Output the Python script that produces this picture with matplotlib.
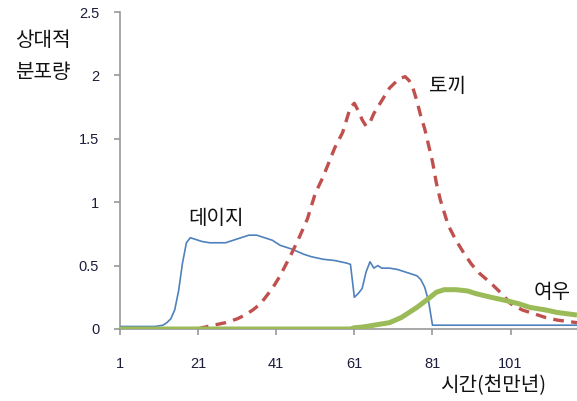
import matplotlib
matplotlib.use("Agg")
import matplotlib.pyplot as plt

plt.rcParams['font.family'] = ['Noto Sans CJK KR', 'DejaVu Sans']

# 데이지
daisy_x = [1, 10, 12, 13, 14, 15, 16, 17, 18, 19, 20, 22, 24, 28, 30, 32, 34, 36, 38, 40,
           42, 45, 48, 50, 53, 56, 59, 60, 61, 62, 63, 64, 65, 66, 67, 68, 70, 72, 74, 75,
           77, 78, 79, 80, 81, 118]
daisy_y = [0.02, 0.02, 0.03, 0.05, 0.08, 0.15, 0.30, 0.52, 0.68, 0.72, 0.71, 0.69, 0.68, 0.68,
           0.70, 0.72, 0.74, 0.74, 0.72, 0.70, 0.66, 0.63, 0.59, 0.57, 0.55, 0.54, 0.52, 0.51,
           0.25, 0.28, 0.32, 0.45, 0.53, 0.48, 0.50, 0.48, 0.48, 0.47, 0.45, 0.44, 0.42, 0.39,
           0.33, 0.22, 0.03, 0.03]

# 토끼
rabbit_x = [21, 22, 25, 28, 31, 33, 35, 37, 40, 42, 45, 47, 49, 51, 53, 56, 58, 60, 61, 62,
            63, 64, 65, 66, 68, 70, 72, 73, 74, 75, 76, 77, 78, 79, 80, 81, 82, 83, 84, 85,
            87, 89, 91, 93, 96, 99, 101, 104, 107, 110, 113, 118]
rabbit_y = [0.0, 0.01, 0.03, 0.05, 0.08, 0.11, 0.15, 0.20, 0.32, 0.42, 0.60, 0.73, 0.87, 1.07,
            1.20, 1.43, 1.55, 1.75, 1.78, 1.72, 1.65, 1.60, 1.63, 1.70, 1.80, 1.90, 1.96, 1.98,
            1.99, 1.96, 1.90, 1.80, 1.68, 1.58, 1.45, 1.32, 1.15, 1.02, 0.92, 0.82, 0.70, 0.60,
            0.51, 0.44, 0.36, 0.27, 0.20, 0.15, 0.12, 0.09, 0.07, 0.05]

# 여우
fox_x = [1, 60, 61, 63, 66, 70, 73, 77, 80, 82, 84, 87, 90, 92, 96, 99, 103, 106, 110, 113, 118]
fox_y = [0.0, 0.0, 0.01, 0.015, 0.03, 0.05, 0.09, 0.17, 0.24, 0.29, 0.31, 0.31, 0.30, 0.28,
         0.25, 0.23, 0.20, 0.17, 0.15, 0.13, 0.11]

xticks = [1, 21, 41, 61, 81, 101]
yticks = [0, 0.5, 1, 1.5, 2, 2.5]
ytick_labels = ['0', '0.5', '1', '1.5', '2', '2.5']

W, H = 577, 401
fig = plt.figure(figsize=(W / 100, H / 100), dpi=100)
ax = fig.add_axes([120 / W, 1 - 329 / H, 1 - 120 / W, (329 - 12) / H])

ax.plot(daisy_x, daisy_y, color='#4F81BD', lw=1.2, zorder=3)
ax.plot(rabbit_x, rabbit_y, color='#C0504D', lw=2.4, ls=(0, (3.2, 2.2)), zorder=4)
ax.plot(fox_x, fox_y, color='#9BBB59', lw=3.6, zorder=5, solid_capstyle='butt')

ax.set_xlim(1, 118)
ax.set_ylim(0, 2.5)
ax.set_xticks(xticks)
ax.set_xticklabels([str(t) for t in xticks])
ax.set_yticks(yticks)
ax.set_yticklabels(ytick_labels)

for s in ['top', 'right']:
    ax.spines[s].set_visible(False)
for s in ['left', 'bottom']:
    ax.spines[s].set_color('#989898')
    ax.spines[s].set_linewidth(1.2)
ax.spines['bottom'].set_zorder(2)

ax.tick_params(axis='both', direction='out', color='#989898', length=4, width=1.2,
               labelcolor='#1c1c3c', labelsize=10.5)
ax.tick_params(axis='y', pad=11)
ax.tick_params(axis='x', pad=16)
for lab in ax.get_xticklabels() + ax.get_yticklabels():
    lab.set_family(['Liberation Sans', 'DejaVu Sans'])

fkw = dict(fontsize=14.5, color='#111111', ha='center', va='center')
fig.text(43 / W, 1 - 40 / H, '상대적', **fkw)
fig.text(43 / W, 1 - 72 / H, '분포량', **fkw)
fig.text(448 / W, 1 - 87 / H, '토끼', **fkw)
fig.text(216 / W, 1 - 218 / H, '데이지', **fkw)
fig.text(552 / W, 1 - 293 / H, '여우', **fkw)
fig.text(493 / W, 1 - 386 / H, '시간(천만년)', **fkw)

fig.savefig('out.png', dpi=100)
